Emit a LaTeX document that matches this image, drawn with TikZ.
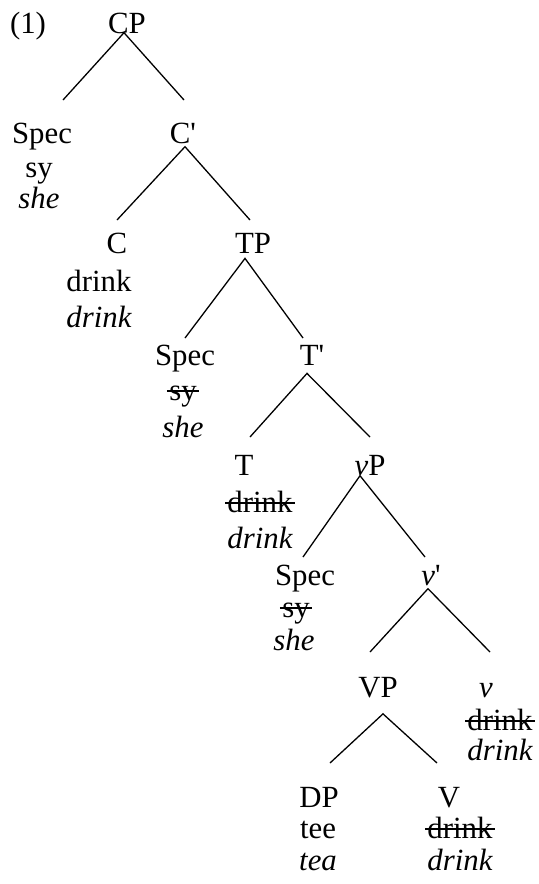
\documentclass[tikz,border=0pt]{standalone}
\usepackage{fontspec}
\setmainfont{Liberation Serif}
\newcommand\treesize{\fontsize{15.4}{18}\selectfont}
% word with a line drawn through it (traces of moved elements)
\newcommand\strikeword[1]{%
  \setbox0=\hbox{#1}%
  \rlap{\kern-0.08em\rule[0.26em]{\dimexpr\wd0+0.16em\relax}{0.06em}}\box0}

\begin{document}
\begin{tikzpicture}[x=0.5pt, y=-0.5pt,
    cat/.style={inner sep=0pt, anchor=base, font=\treesize},
    word/.style={cat},
    gloss/.style={inner sep=0pt, anchor=base, font=\treesize\itshape},
    leg/.style={line width=0.65pt}]
  \useasboundingbox (0,0) rectangle (539,884);

  \node[cat] (ex) at (28,33) {(1)};
  \node[cat] (cp) at (127,33) {CP};

  % CP level
  \node[cat]   (spec-c)   at (42,143) {Spec};
  \node[word]  (spec-c-w) at (39,177) {sy};
  \node[gloss] (spec-c-g) at (39,208) {she};
  \node[cat]   (cbar)     at (183,143) {C\textquotesingle};

  \node[cat]   (c)   at (117,253) {C};
  \node[word]  (c-w) at (99,291) {drink};
  \node[gloss] (c-g) at (99,327) {drink};
  \node[cat]   (tp)  at (253,253) {TP};

  % TP level
  \node[cat]   (spec-t)   at (185,365) {Spec};
  \node[word]  (spec-t-w) at (183,400) {\strikeword{sy}};
  \node[gloss] (spec-t-g) at (183,437) {she};
  \node[cat]   (tbar)     at (312,365) {T\textquotesingle};

  \node[cat]   (t)   at (244,475) {T};
  \node[word]  (t-w) at (260,512) {\strikeword{drink}};
  \node[gloss] (t-g) at (260,548) {drink};
  \node[cat]   (vp)  at (370,475) {\textit{v}P};

  % vP level
  \node[cat]   (spec-v)   at (305,585) {Spec};
  \node[word]  (spec-v-w) at (296,617) {\strikeword{sy}};
  \node[gloss] (spec-v-g) at (294,650) {she};
  \node[cat]   (vbar)     at (431,585) {\textit{v}\textquotesingle};

  \node[cat]   (bigvp) at (378,697) {VP};
  \node[gloss] (v)     at (486,697) {v};
  \node[word]  (v-w)   at (500,730) {\strikeword{drink}};
  \node[gloss] (v-g)   at (500,760) {drink};

  % VP level
  \node[cat]   (dp)   at (319,807) {DP};
  \node[word]  (dp-w) at (318,838) {tee};
  \node[gloss] (dp-g) at (318,870) {tea};
  \node[cat]   (bigv)   at (449,807) {V};
  \node[word]  (bigv-w) at (460,838) {\strikeword{drink}};
  \node[gloss] (bigv-g) at (460,870) {drink};

  % branches
  \coordinate (cp-l) at (63,100);     \coordinate (cp-r) at (184,100);
  \coordinate (cbar-l) at (117,220);  \coordinate (cbar-r) at (250,220);
  \coordinate (tp-l) at (185,338);    \coordinate (tp-r) at (303,338);
  \coordinate (tbar-l) at (250,437);  \coordinate (tbar-r) at (370,437);
  \coordinate (vp-l) at (303,557);    \coordinate (vp-r) at (425,557);
  \coordinate (vbar-l) at (370,652);  \coordinate (vbar-r) at (490,652);
  \coordinate (bigvp-l) at (330,763); \coordinate (bigvp-r) at (437,763);

  \draw[leg] (cp-l) -- ([shift={(-3,-1)}]cp.south) -- (cp-r);
  \draw[leg] (cbar-l) -- ([shift={(2,3)}]cbar.south) -- (cbar-r);
  \draw[leg] (tp-l) -- ([shift={(-8,5)}]tp.south) -- (tp-r);
  \draw[leg] (tbar-l) -- ([shift={(-5,8)}]tbar.south) -- (tbar-r);
  \draw[leg] (vp-l) -- ([shift={(-10,0)}]vp.south) -- (vp-r);
  \draw[leg] (vbar-l) -- ([shift={(-3,3)}]vbar.south) -- (vbar-r);
  \draw[leg] (bigvp-l) -- ([shift={(5,16)}]bigvp.south) -- (bigvp-r);
\end{tikzpicture}
\end{document}
